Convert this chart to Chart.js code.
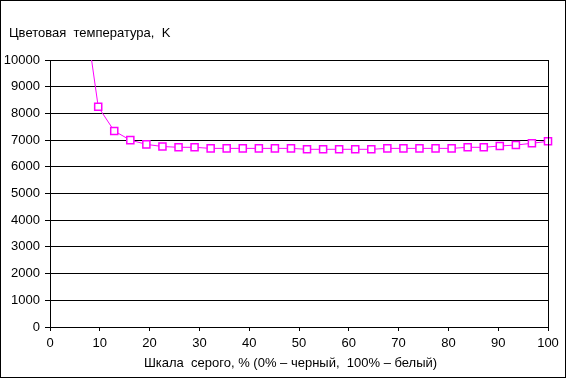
<!DOCTYPE html>
<html>
<head>
<meta charset="utf-8">
<script src="https://cdn.jsdelivr.net/npm/chart.js@4.4.1/dist/chart.umd.min.js"></script>
<style>
  html, body { margin: 0; padding: 0; background: #fff; }
  #wrap { width: 567px; height: 379px; }
</style>
</head>
<body>
<div id="wrap"><canvas id="c" width="567" height="379"></canvas></div>
<script>
// Grey scale level, % (0% – black, 100% – white)
const greyLevels = [6.45, 9.68, 12.90, 16.13, 19.35, 22.58, 25.81, 29.03, 32.26, 35.48,
  38.71, 41.94, 45.16, 48.39, 51.61, 54.84, 58.06, 61.29, 64.52, 67.74,
  70.97, 74.19, 77.42, 80.65, 83.87, 87.10, 90.32, 93.55, 96.77, 100];
// Colour temperature, K
const colourTemps = [12500, 8250, 7340, 7000, 6840, 6760, 6730, 6730, 6690, 6690,
  6690, 6690, 6690, 6690, 6655, 6655, 6655, 6655, 6655, 6690,
  6690, 6690, 6690, 6690, 6730, 6730, 6780, 6815, 6880, 6955];
const xTicks = [0, 10, 20, 30, 40, 50, 60, 70, 80, 90, 100];
const yTicks = [0, 1000, 2000, 3000, 4000, 5000, 6000, 7000, 8000, 9000, 10000];
const yTitle = 'Цветовая  температура,  K';
const xTitle = 'Шкала  серого, % (0% – черный,  100% – белый)';

const FONT = "'Liberation Sans', Arial, sans-serif";
const FS = 13;

const decor = {
  id: 'decor',
  afterDraw(chart) {
    const ctx = chart.ctx;
    const a = chart.chartArea;
    ctx.save();
    // right edge of plot area
    ctx.strokeStyle = '#000';
    ctx.lineWidth = 1;
    ctx.beginPath();
    ctx.moveTo(Math.round(a.right) + 0.5, Math.round(a.top));
    ctx.lineTo(Math.round(a.right) + 0.5, Math.round(a.bottom) + 1);
    ctx.stroke();
    // outer border
    ctx.strokeRect(0.5, 0.5, 565, 377);
    // titles
    ctx.fillStyle = '#000';
    ctx.font = FS + 'px ' + FONT;
    ctx.textBaseline = 'alphabetic';
    ctx.textAlign = 'left';
    ctx.fillText(yTitle, 9, 37);
    ctx.textAlign = 'center';
    ctx.fillText(xTitle, 290.5, 367);
    ctx.restore();
  }
};

new Chart(document.getElementById('c'), {
  type: 'line',
  data: {
    datasets: [{
      data: greyLevels.map((x, i) => ({ x: x, y: colourTemps[i] })),
      borderColor: '#FF00FF',
      borderWidth: 1,
      tension: 0,
      pointStyle: 'rect',
      pointRadius: 5,
      pointHoverRadius: 5,
      pointBorderWidth: 1.5,
      pointBorderColor: '#FF00FF',
      pointBackgroundColor: '#FFFFFF',
      clip: { top: 0, left: 10, right: 10, bottom: 10 }
    }]
  },
  options: {
    responsive: false,
    animation: false,
    devicePixelRatio: 1,
    layout: { padding: { left: 0, right: 19, top: 60, bottom: 0 } },
    plugins: { legend: { display: false }, tooltip: { enabled: false }, title: { display: false } },
    scales: {
      x: {
        type: 'linear',
        min: 0, max: 100,
        afterBuildTicks(s) { s.ticks = xTicks.map(v => ({ value: v })); },
        afterFit(s) { s.height = 52; },
        ticks: { color: '#000', font: { family: FONT, size: FS }, padding: 5, maxRotation: 0, autoSkip: false },
        grid: { drawOnChartArea: false, drawTicks: true, tickLength: 4, color: '#000', lineWidth: 1 },
        border: { display: true, color: '#000', width: 1 }
      },
      y: {
        min: 0, max: 10000,
        afterBuildTicks(s) { s.ticks = yTicks.map(v => ({ value: v })); },
        afterFit(s) { s.width = 50; },
        ticks: { color: '#000', font: { family: FONT, size: FS }, padding: 5, autoSkip: false,
                 callback: v => String(v) },
        grid: { drawOnChartArea: true, drawTicks: true, tickLength: 5, color: '#000', lineWidth: 1 },
        border: { display: true, color: '#000', width: 1 }
      }
    }
  },
  plugins: [decor]
});
</script>
</body>
</html>
